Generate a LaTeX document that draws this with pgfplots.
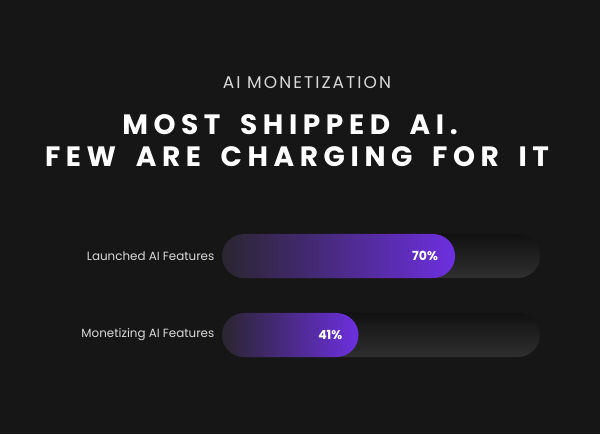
\documentclass[border=0pt]{standalone}
\usepackage{fontspec}
\setmainfont{Poppins}
\newfontfamily\titlefont[LetterSpace=20, WordSpace=1.7]{Poppins}
\newfontfamily\subfont[LetterSpace=12]{Poppins}
\usepackage{pgfplots}
\pgfplotsset{compat=1.18}
\definecolor{bg}{HTML}{161616}
\definecolor{trackTop}{HTML}{111111}
\definecolor{trackBot}{HTML}{2F2F2F}
\definecolor{barL}{HTML}{2A2630}
\definecolor{barR}{HTML}{6D2FE0}
\definecolor{lbl}{HTML}{D9D9D9}
\begin{document}
\begin{tikzpicture}[x=1pt,y=1pt]
\fill[bg] (0,0) rectangle (600,434);
\useasboundingbox (0,0) rectangle (600,434);
\node[anchor=base, inner sep=0pt, text=lbl, font=\subfont\fontsize{17}{17}\selectfont] at (307,345) {AI MONETIZATION};
\node[anchor=base, inner sep=0pt, text=white, font=\titlefont\bfseries\fontsize{28}{28}\selectfont] at (290,299) {MOST SHIPPED AI.};
\node[anchor=base, inner sep=0pt, text=white, font=\titlefont\bfseries\fontsize{28}{28}\selectfont] at (297,267) {FEW ARE CHARGING FOR IT};
\begin{axis}[
  at={(222pt,59.5pt)}, anchor=south west,
  scale only axis, width=318pt, height=158pt,
  xmin=0, xmax=95.5, ymin=-0.5, ymax=1.5,
  clip=false,
  axis line style={draw=none},
  major tick length=0pt,
  xtick=\empty,
  ytick={0,1},
  yticklabels={Monetizing AI Features, Launched AI Features},
  yticklabel style={text=lbl, font=\fontsize{11.9}{13}\selectfont, anchor=east, inner sep=0pt, xshift=-7.5pt},
  /pgf/number format/assume math mode=true,
]
\addplot[xbar, bar width=44pt, bar shift=0pt, draw=none, top color=trackTop, bottom color=trackBot, rounded corners=22pt] coordinates {(95.5,1)};
\addplot[xbar, bar width=44pt, bar shift=0pt, draw=none, top color=trackTop, bottom color=trackBot, rounded corners=22pt] coordinates {(95.5,0)};
\addplot[xbar, bar width=44pt, bar shift=0pt, draw=none, left color=barL, right color=barR, rounded corners=22pt,
  point meta=x, nodes near coords={\pgfmathprintnumber{\pgfplotspointmeta}\%},
  every node near coord/.append style={anchor=east, xshift=-17pt, text=white, font=\bfseries\fontsize{12.5}{13}\selectfont, inner sep=0pt}] coordinates {(70,1)};
\addplot[xbar, bar width=44pt, bar shift=0pt, draw=none, left color=barL, right color=barR, rounded corners=22pt,
  point meta=x, nodes near coords={\pgfmathprintnumber{\pgfplotspointmeta}\%},
  every node near coord/.append style={anchor=east, xshift=-16pt, text=white, font=\bfseries\fontsize{12.5}{13}\selectfont, inner sep=0pt}] coordinates {(41,0)};
\end{axis}
\end{tikzpicture}
\end{document}
